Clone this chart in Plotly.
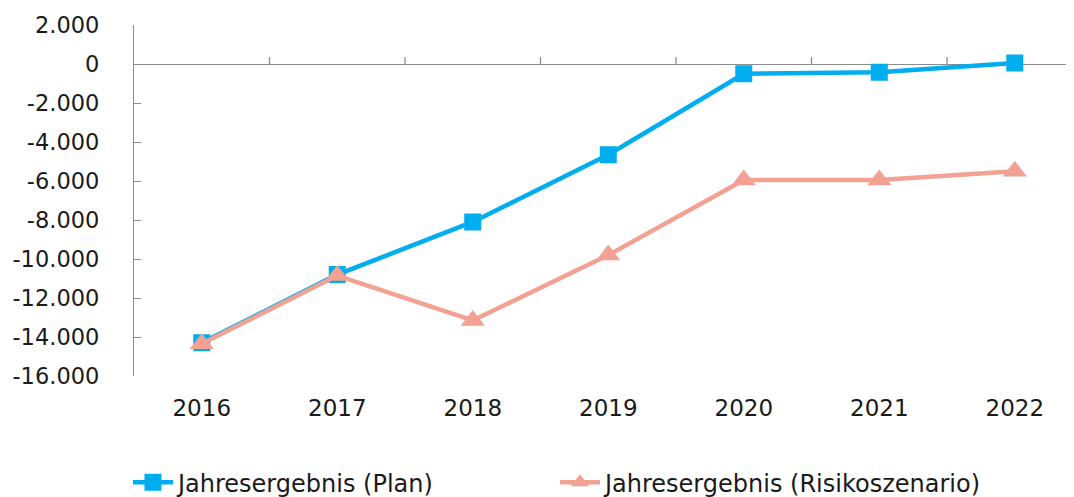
import plotly.graph_objects as go

years = ["2016", "2017", "2018", "2019", "2020", "2021", "2022"]
plan = [-14300, -10800, -8100, -4650, -500, -420, 50]
risiko = [-14350, -10850, -13150, -9800, -5950, -5950, -5500]
ytick_vals = [2000, 0, -2000, -4000, -6000, -8000, -10000, -12000, -14000, -16000]
ytick_text = ["2.000", "0", "-2.000", "-4.000", "-6.000", "-8.000", "-10.000", "-12.000", "-14.000", "-16.000"]

blue = "#00AEEF"
salmon = "#F2A193"
axis_col = "#8C8C8C"
font = "DejaVu Sans, Arial, sans-serif"

fig = go.Figure()
fig.add_trace(go.Scatter(
    x=list(range(len(years))), y=plan, mode="lines+markers",
    name="Jahresergebnis (Plan)",
    line=dict(color=blue, width=4.5),
    marker=dict(symbol="square", size=15, color=blue, line=dict(color=blue, width=2)),
))
fig.add_trace(go.Scatter(
    x=list(range(len(years))), y=risiko, mode="lines+markers",
    name="Jahresergebnis (Risikoszenario)",
    line=dict(color=salmon, width=4.5),
    marker=dict(symbol="triangle-up", size=21, color=salmon),
))

# category separator ticks on the zero axis line
shapes = []
for i in range(len(years) - 1):
    shapes.append(dict(type="line", xref="x", yref="y", x0=i + 0.5, x1=i + 0.5,
                       ysizemode="pixel", yanchor=0, y0=0, y1=7,
                       line=dict(color=axis_col, width=1.3), layer="below"))
fig.layout.shapes = shapes

# page body has an 8px default margin, so the figure is 8px smaller
fig.update_layout(
    width=1066, height=489,
    margin=dict(l=126, r=0, t=17, b=121, autoexpand=False),
    plot_bgcolor="white", paper_bgcolor="white",
    font=dict(family=font, size=23, color="#1a1a1a"),
    showlegend=True,
    legend=dict(orientation="h", x=-0.0064, y=-0.24, xanchor="left", yanchor="top",
                font=dict(size=24), entrywidth=372, itemwidth=40,
                tracegroupgap=0),
    xaxis=dict(range=[-0.5, 6.437], tickvals=list(range(len(years))), ticktext=years,
               showgrid=False, zeroline=False, showline=False, ticks="",
               ticklabelstandoff=16, fixedrange=True, automargin=False),
    yaxis=dict(range=[-16000, 2000], tickvals=ytick_vals, ticktext=ytick_text,
               showgrid=False, zeroline=True, zerolinecolor=axis_col, zerolinewidth=1.3,
               showline=True, linecolor=axis_col, linewidth=1.3,
               ticks="inside", ticklen=7, tickcolor=axis_col, tickwidth=1.3,
               ticklabelstandoff=29, tickfont=dict(size=22.5), automargin=False),
)

fig.write_html("out.html")
